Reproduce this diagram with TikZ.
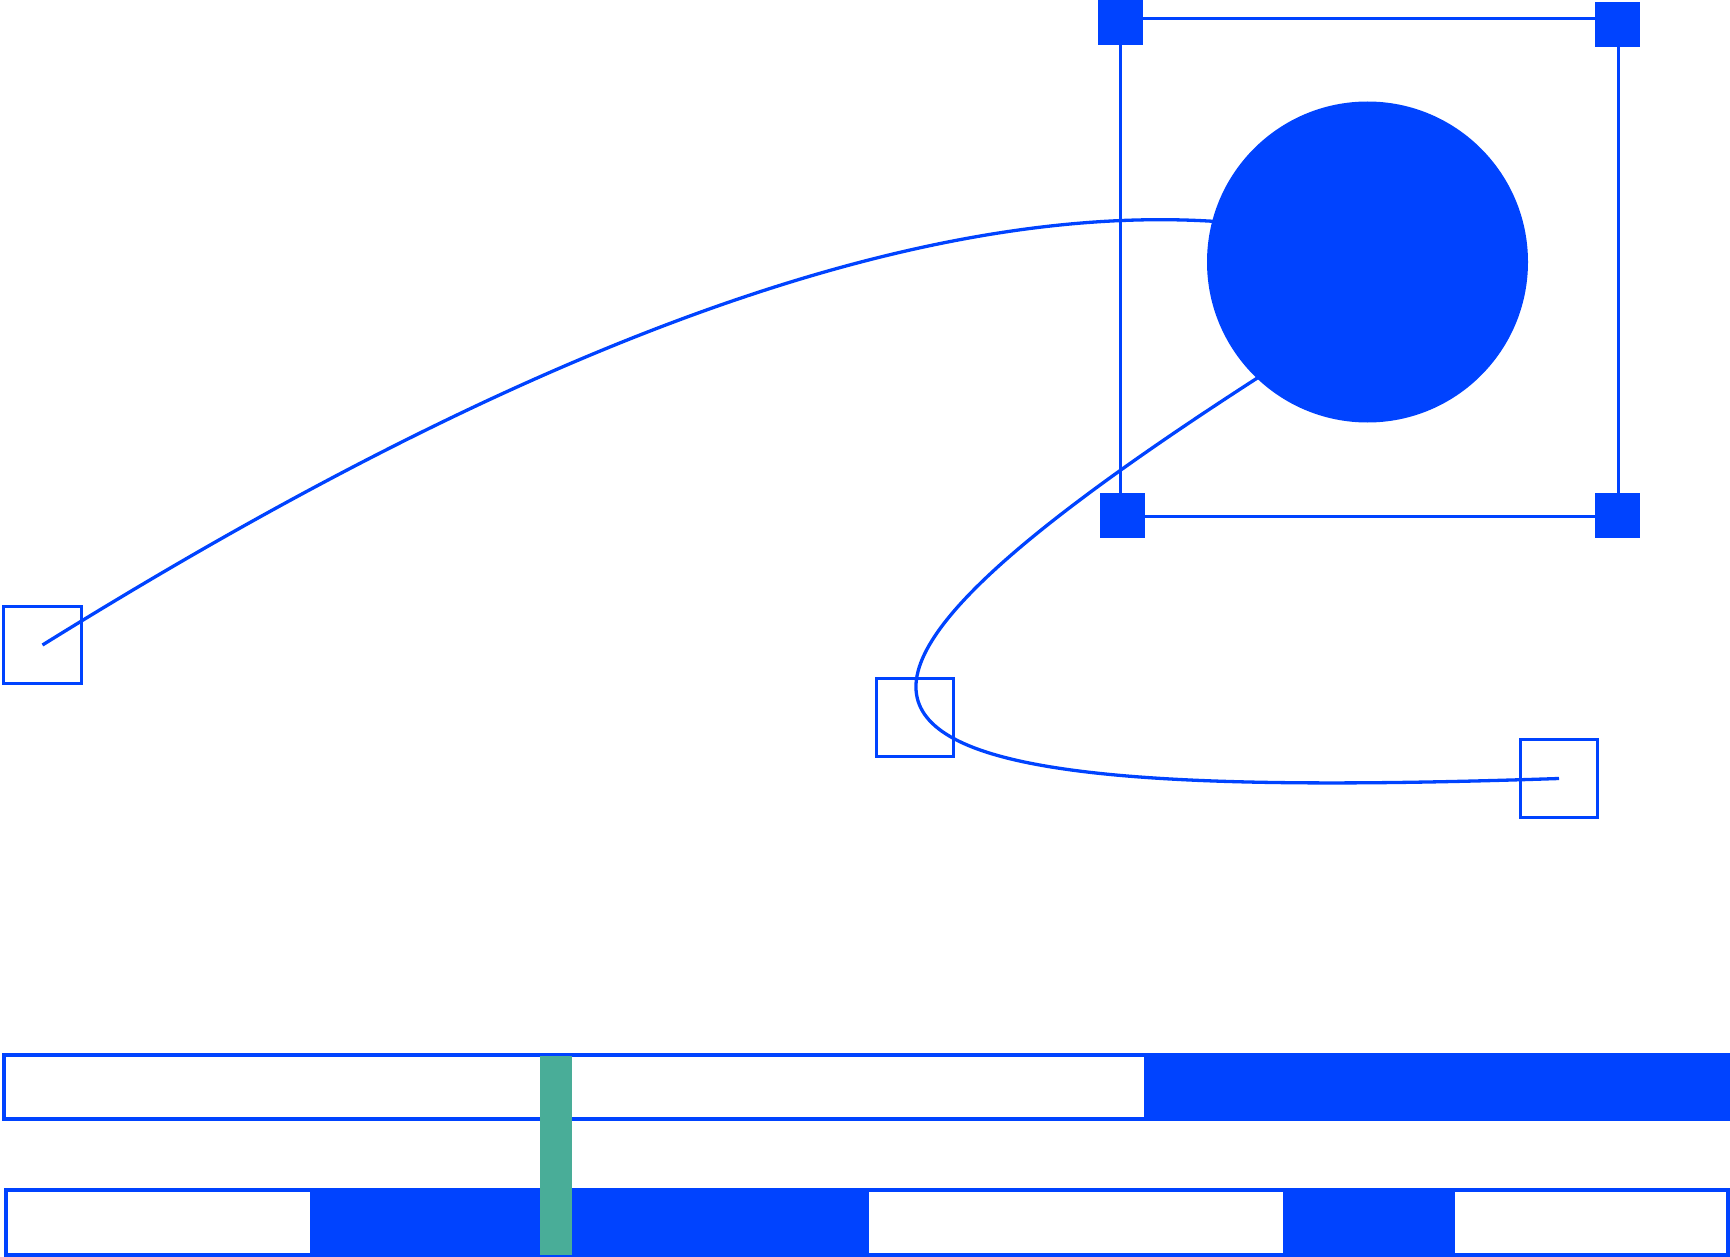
\documentclass[tikz,border=0pt]{standalone}
\definecolor{bl}{RGB}{0,67,255}
\definecolor{gr}{RGB}{73,173,152}
\begin{document}
\begin{tikzpicture}[x=1pt,y=-1pt,
  conn/.style={draw=bl,line width=3.3pt},
  anchorbox/.style={draw=bl,line width=3.3pt,minimum size=77.5pt,inner sep=0pt,outer sep=0pt},
  handle/.style={fill=bl,minimum size=45pt,inner sep=0pt,outer sep=0pt},
  frameline/.style={draw=bl,line width=3pt}]
\useasboundingbox (0,0) rectangle (1730,1257);
% anchor squares
\node[anchorbox] (sqA) at (42.5,645) {};
\node[anchorbox] (sqB) at (915,717.5) {};
\node[anchorbox] (sqC) at (1559,778.5) {};
% hidden ends inside the circle
\coordinate (c1end) at (1290,230);
\coordinate (c2start) at (1367,309);
% curves
\draw[conn] (sqA.center) .. controls (405,420) and (900,165) .. (c1end);
\draw[conn] (c2start) .. controls (700,720) and (780,805) .. (sqC.center);
% selection frame
\coordinate (fTL) at (1120.5,19);
\coordinate (fTR) at (1618.5,19);
\coordinate (fBR) at (1618.5,516);
\coordinate (fBL) at (1120.5,516);
\draw[frameline] (fTL) -- (fTR) -- (fBR) -- (fBL) -- cycle;
% circle
\node[circle,fill=bl,minimum size=321pt,inner sep=0pt] (circ) at (1367.5,262) {};
% handles
\node[handle] (hTL) at (1120.5,22.5) {};
\node[handle] (hTR) at (1617,24.5) {};
\node[handle] (hBL) at (1122,515) {};
\node[handle] (hBR) at (1617,515) {};
% top bar
\fill[bl] (2,1053) rectangle (1730,1121);
\fill[white] (5.5,1057) rectangle (1144,1117);
% bottom bar
\fill[bl] (4.4,1188) rectangle (1730,1257);
\fill[white] (7.7,1192) rectangle (310,1252.7);
\fill[white] (868.6,1192) rectangle (1282.5,1252.7);
\fill[white] (1454.7,1192) rectangle (1725.5,1252.7);
% green marker
\fill[gr] (539.5,1056) rectangle (571.5,1255);
\end{tikzpicture}
\end{document}
